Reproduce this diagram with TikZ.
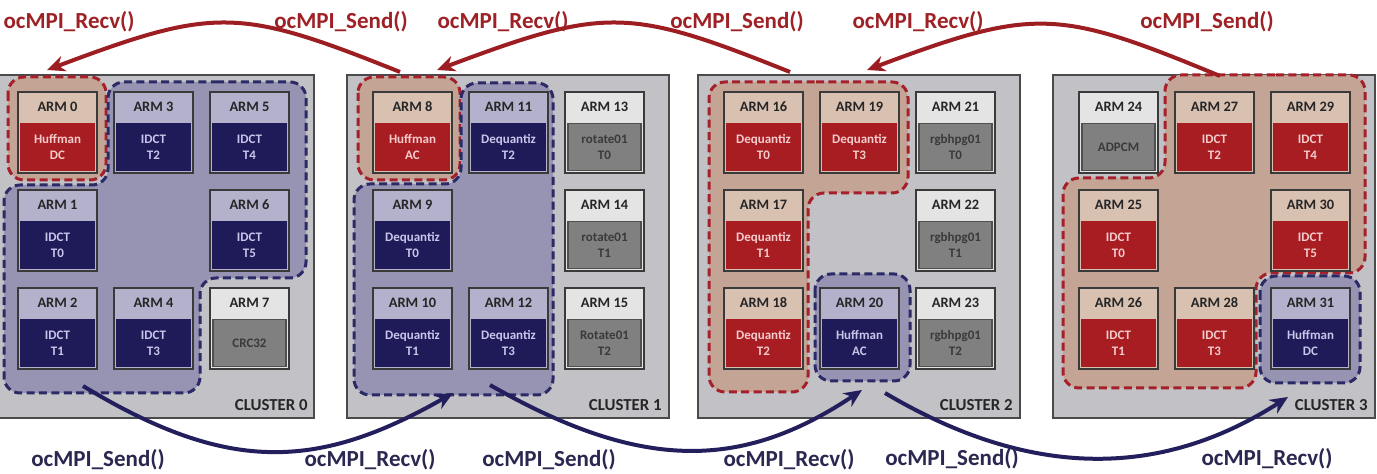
\documentclass[tikz,border=0pt]{standalone}
\usepackage{fontspec}
\setmainfont{Carlito}
\usetikzlibrary{arrows.meta}
\definecolor{clfill}{HTML}{C2C2C6}
\definecolor{cledge}{HTML}{4A4A4A}
\definecolor{frame}{HTML}{3A3A3A}
\definecolor{bluH}{HTML}{B3B1CB}
\definecolor{bluB}{HTML}{1F1B58}
\definecolor{bluE}{HTML}{1F1B58}
\definecolor{bluT}{HTML}{C8C6EA}
\definecolor{redH}{HTML}{D9C1B2}
\definecolor{redB}{HTML}{A81D22}
\definecolor{redE}{HTML}{A81D22}
\definecolor{redT}{HTML}{F4CCCC}
\definecolor{gryH}{HTML}{E4E4E4}
\definecolor{gryB}{HTML}{808080}
\definecolor{gryE}{HTML}{505050}
\definecolor{gryT}{HTML}{3A3A3A}
\definecolor{regredfill}{HTML}{C4A595}
\definecolor{regblufill}{HTML}{9694B2}
\definecolor{regredline}{HTML}{A6202B}
\definecolor{regbluline}{HTML}{2B2966}
\definecolor{arrred}{HTML}{9C1D22}
\definecolor{arrblu}{HTML}{231F5C}
\definecolor{labred}{HTML}{9E2126}
\definecolor{labblu}{HTML}{2A2850}
\newcommand\armbox[5]{%
  \node[armframe, fill=#4H] (arm#1) at (#2+39.5,#3+40.5) {};
  \node[armbody, fill=#4B, draw=#4E, text=#4T] (task#1) at (#2+39.5,#3+55) {#5};
  \node[armhead] (lab#1) at (#2+39.5,#3+15) {ARM #1};
}
\begin{document}
\begin{tikzpicture}[x=0.5pt,y=-0.5pt,
  cluster/.style={draw=cledge, fill=clfill, line width=0.8pt, minimum width=161pt, minimum height=171.5pt, inner sep=0pt},
  clusterlab/.style={font=\fontsize{8.4}{10}\selectfont\bfseries, text=black!85, anchor=east, inner sep=0pt},
  armframe/.style={draw=frame, line width=1pt, minimum width=39.5pt, minimum height=40.5pt, inner sep=0pt},
  armbody/.style={line width=0.8pt, minimum width=36.5pt, minimum height=23.5pt, inner sep=0pt, align=center, font=\fontsize{6.5}{8}\selectfont\bfseries},
  armhead/.style={font=\fontsize{7.2}{8}\selectfont\bfseries, text=black!85, inner sep=0pt},
  redreg/.style={draw=regredline, fill=regredfill, line width=1.5pt, dash pattern=on 4pt off 2.2pt, rounded corners=8pt},
  blureg/.style={draw=regbluline, fill=regblufill, line width=1.5pt, dash pattern=on 4pt off 2.2pt, rounded corners=8pt},
  redarrow/.style={draw=arrred, line width=2pt, -{Stealth[length=9pt,width=8pt]}},
  bluarrow/.style={draw=arrblu, line width=2pt, -{Stealth[length=9pt,width=8pt]}},
  toplab/.style={font=\fontsize{11.5}{13}\selectfont\bfseries, text=labred, inner sep=0pt},
  botlab/.style={font=\fontsize{11.5}{13}\selectfont\bfseries, text=labblu, inner sep=0pt}
]
\useasboundingbox (0,0) rectangle (1377,474);
\fill[white] (0,0) rectangle (1377,474);

% clusters
\node[cluster] (cl0) at (-8+161,246.5) {};
\node[cluster] (cl1) at (347+161,246.5) {};
\node[cluster] (cl2) at (698+161,246.5) {};
\node[cluster] (cl3) at (1053+161,246.5) {};
\node[clusterlab] (cl0lab) at (-8+316,405) {CLUSTER 0};
\node[clusterlab] (cl1lab) at (347+315,405) {CLUSTER 1};
\node[clusterlab] (cl2lab) at (698+315,405) {CLUSTER 2};
\node[clusterlab] (cl3lab) at (1053+315,405) {CLUSTER 3};

% regions
\draw[redreg] (8,77) rectangle (106,180);
\draw[blureg] (200,82) -- (306,82) -- (306,278) -- (200,278) -- (200,393) -- (4,393) -- (4,185) -- (108,185) -- (108,82) -- cycle;
\draw[redreg] (358,77) rectangle (460,180);
\draw[blureg] (500,83) -- (553,83) -- (553,395) -- (354,395) -- (354,184) -- (461,184) -- (461,83) -- cycle;
\draw[redreg] (800,82) -- (908,82) -- (908,193) -- (808,193) -- (808,392) -- (709,392) -- (709,82) -- cycle;
\draw[blureg] (815,274) rectangle (910,381);
\draw[redreg] (1260,75) -- (1365,75) -- (1365,273) -- (1256,273) -- (1256,388) -- (1063,388) -- (1063,178) -- (1165,178) -- (1165,75) -- cycle;
\draw[blureg] (1260,276) rectangle (1360,383);

% cluster 0
\armbox{0}{18}{92}{red}{Huffman\\DC}
\armbox{3}{114}{92}{blu}{IDCT\\T2}
\armbox{5}{210}{92}{blu}{IDCT\\T4}
\armbox{1}{18}{190}{blu}{IDCT\\T0}
\armbox{6}{210}{190}{blu}{IDCT\\T5}
\armbox{2}{18}{288}{blu}{IDCT\\T1}
\armbox{4}{114}{288}{blu}{IDCT\\T3}
\armbox{7}{210}{288}{gry}{CRC32}
% cluster 1
\armbox{8}{373}{92}{red}{Huffman\\AC}
\armbox{11}{469}{92}{blu}{Dequantiz\\T2}
\armbox{13}{565}{92}{gry}{rotate01\\T0}
\armbox{9}{373}{190}{blu}{Dequantiz\\T0}
\armbox{14}{565}{190}{gry}{rotate01\\T1}
\armbox{10}{373}{288}{blu}{Dequantiz\\T1}
\armbox{12}{469}{288}{blu}{Dequantiz\\T3}
\armbox{15}{565}{288}{gry}{Rotate01\\T2}
% cluster 2
\armbox{16}{724}{92}{red}{Dequantiz\\T0}
\armbox{19}{820}{92}{red}{Dequantiz\\T3}
\armbox{21}{916}{92}{gry}{rgbhpg01\\T0}
\armbox{17}{724}{190}{red}{Dequantiz\\T1}
\armbox{22}{916}{190}{gry}{rgbhpg01\\T1}
\armbox{18}{724}{288}{red}{Dequantiz\\T2}
\armbox{20}{820}{288}{blu}{Huffman\\AC}
\armbox{23}{916}{288}{gry}{rgbhpg01\\T2}
% cluster 3
\armbox{24}{1079}{92}{gry}{ADPCM}
\armbox{27}{1175}{92}{red}{IDCT\\T2}
\armbox{29}{1271}{92}{red}{IDCT\\T4}
\armbox{25}{1079}{190}{red}{IDCT\\T0}
\armbox{30}{1271}{190}{red}{IDCT\\T5}
\armbox{26}{1079}{288}{red}{IDCT\\T1}
\armbox{28}{1175}{288}{red}{IDCT\\T3}
\armbox{31}{1271}{288}{blu}{Huffman\\DC}

% arrow end points
\coordinate (r1s) at (400,72);  \coordinate (r1e) at (47,70);
\coordinate (r2s) at (790,72);  \coordinate (r2e) at (437,70);
\coordinate (r3s) at (1220,76); \coordinate (r3e) at (867,70);
\coordinate (b1s) at (83,386);  \coordinate (b1e) at (453,393);
\coordinate (b2s) at (490,385); \coordinate (b2e) at (862,390);
\coordinate (b3s) at (885,393); \coordinate (b3e) at (1288,397);

\draw[redarrow] (r1s) .. controls (238,7) and (215,7) .. (r1e);
\draw[redarrow] (r2s) .. controls (628,7) and (605,7) .. (r2e);
\draw[redarrow] (r3s) .. controls (1058,9) and (1035,7) .. (r3e);
\draw[bluarrow] (b1s) .. controls (225,472) and (315,472) .. (b1e);
\draw[bluarrow] (b2s) .. controls (640,471) and (741,471) .. (b2e);
\draw[bluarrow] (b3s) .. controls (1030,479) and (1160,479) .. (b3e);

% labels
\node[toplab] (t1) at (69,22) {ocMPI\_Recv()};
\node[toplab] (t2) at (341,22) {ocMPI\_Send()};
\node[toplab] (t3) at (503,22) {ocMPI\_Recv()};
\node[toplab] (t4) at (737,22) {ocMPI\_Send()};
\node[toplab] (t5) at (918,22) {ocMPI\_Recv()};
\node[toplab] (t6) at (1207,22) {ocMPI\_Send()};
\node[botlab] (u1) at (98,460) {ocMPI\_Send()};
\node[botlab] (u2) at (370,460) {ocMPI\_Recv()};
\node[botlab] (u3) at (549,460) {ocMPI\_Send()};
\node[botlab] (u4) at (789,460) {ocMPI\_Recv()};
\node[botlab] (u5) at (952,459) {ocMPI\_Send()};
\node[botlab] (u6) at (1267,459) {ocMPI\_Recv()};
\end{tikzpicture}
\end{document}
